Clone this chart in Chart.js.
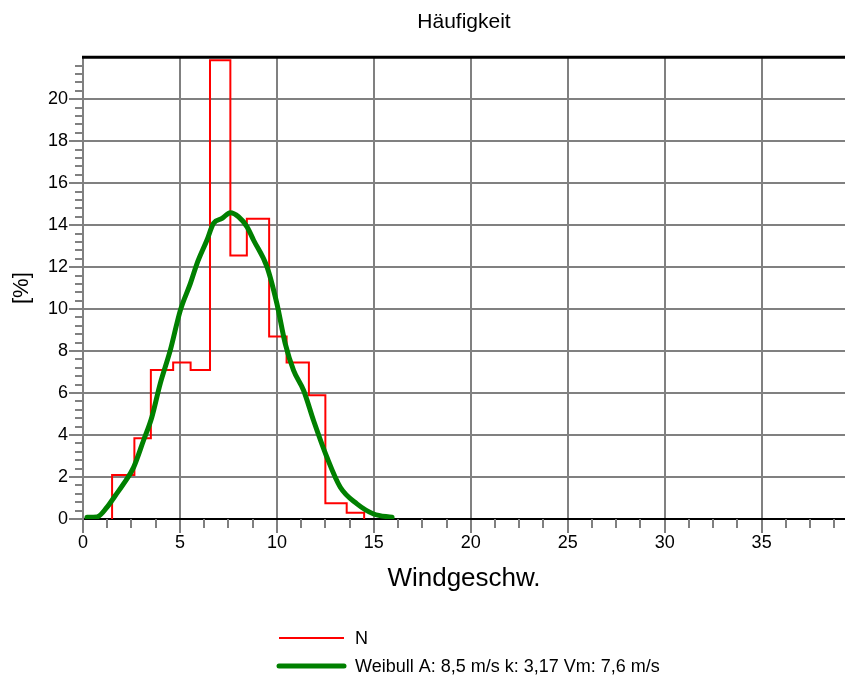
<!DOCTYPE html>
<html>
<head>
<meta charset="utf-8">
<title>Häufigkeit</title>
<script src="https://cdn.jsdelivr.net/npm/chart.js@4.4.1/dist/chart.umd.min.js"></script>
<style>
  html, body { margin: 0; padding: 0; background: #fff; }
</style>
</head>
<body>
<canvas id="chart" width="845" height="679"></canvas>
<script>
  "use strict";

  // Histogram "N": left edge of each bin (m/s) and its share in %
  const binEdges = [1.5, 2.65, 3.5, 4.65, 5.55, 6.55, 7.6, 8.45, 9.6, 10.5, 11.65, 12.5, 13.6, 14.5];
  const binValues = [2.1, 3.85, 7.1, 7.45, 7.1, 21.85, 12.55, 14.3, 8.7, 7.45, 5.9, 0.75, 0.3, 0];

  // Weibull fit
  const weibullX = [0.2, 0.72, 1.23, 1.66, 2.09, 2.61, 3.12, 3.55, 3.98, 4.5, 5.02, 5.53, 5.88, 6.39, 6.73, 7.17, 7.6, 8.02, 8.46, 8.8, 9.49, 10.0, 10.43, 10.86, 11.38, 11.89, 12.58, 13.27, 14.13, 14.99, 15.94];
  const weibullY = [0.08, 0.1, 0.55, 1.11, 1.67, 2.46, 3.74, 4.85, 6.44, 8.03, 9.94, 11.2, 12.17, 13.28, 14.08, 14.32, 14.59, 14.4, 13.92, 13.28, 12.01, 10.26, 8.35, 7.08, 6.12, 4.69, 2.94, 1.51, 0.72, 0.24, 0.08];

  const seriesLabels = ["N", "Weibull A: 8,5 m/s k: 3,17 Vm: 7,6 m/s"];

  // Axis ticks
  const xTickValues = [0, 5, 10, 15, 20, 25, 30, 35];
  const yTickValues = [0, 2, 4, 6, 8, 10, 12, 14, 16, 18, 20];
  const X_MAX = 39.3;
  const Y_MAX = 22;
  const X_MINOR = 1.25;
  const Y_MINOR = 0.4;

  const FONT = "'Liberation Sans', Arial, sans-serif";
  const GRID = "#808080";

  // minor tick marks + black top frame line
  const framePlugin = {
    id: "frame",
    beforeDatasetsDraw(chart) {
      const { ctx, chartArea, scales } = chart;
      const x = scales.x;
      const y = scales.y;
      ctx.save();
      ctx.strokeStyle = GRID;
      ctx.lineWidth = 2;
      ctx.beginPath();
      for (let i = 1; i * X_MINOR < X_MAX; i++) {
        if (i % 4 === 0) continue;
        const px = Math.round(x.getPixelForValue(i * X_MINOR));
        ctx.moveTo(px, chartArea.bottom);
        ctx.lineTo(px, chartArea.bottom + 9);
      }
      for (let i = 1; i * Y_MINOR < Y_MAX - 0.01; i++) {
        if (i % 5 === 0) continue;
        const py = Math.round(y.getPixelForValue(i * Y_MINOR));
        ctx.moveTo(chartArea.left - 8, py);
        ctx.lineTo(chartArea.left, py);
      }
      ctx.stroke();

      ctx.strokeStyle = "#000";
      ctx.lineWidth = 3;
      ctx.beginPath();
      ctx.moveTo(chartArea.left - 1, chartArea.top);
      ctx.lineTo(chartArea.right, chartArea.top);
      ctx.stroke();
      ctx.restore();
    },
  };

  // two-row legend under the axis title
  const legendPlugin = {
    id: "rowLegend",
    afterDraw(chart) {
      const { ctx } = chart;
      const rows = [638, 666];
      chart.data.datasets.forEach((ds, i) => {
        const y = rows[i];
        ctx.save();
        ctx.strokeStyle = ds.borderColor;
        ctx.lineWidth = ds.borderWidth;
        ctx.lineCap = i === 0 ? "butt" : "round";
        ctx.beginPath();
        ctx.moveTo(279, y);
        ctx.lineTo(344, y);
        ctx.stroke();
        ctx.fillStyle = "#000";
        ctx.font = "18px " + FONT;
        ctx.textBaseline = "middle";
        ctx.fillText(ds.label, 355, y + 1);
        ctx.restore();
      });
    },
  };

  const histData = [{ x: binEdges[0], y: 0 }].concat(
    binEdges.map((x, i) => ({ x: x, y: binValues[i] }))
  );
  const weibullData = weibullX.map((x, i) => ({ x: x, y: weibullY[i] }));

  new Chart(document.getElementById("chart"), {
    type: "line",
    data: {
      datasets: [
        {
          label: seriesLabels[0],
          data: histData,
          borderColor: "#ff0000",
          borderWidth: 2,
          stepped: "before",
          pointRadius: 0,
          fill: false,
          order: 1,
        },
        {
          label: seriesLabels[1],
          data: weibullData,
          borderColor: "#008000",
          borderWidth: 5,
          cubicInterpolationMode: "monotone",
          borderJoinStyle: "round",
          borderCapStyle: "round",
          pointRadius: 0,
          fill: false,
          order: 0,
        },
      ],
    },
    options: {
      responsive: false,
      animation: false,
      layout: { padding: { left: 0, right: 0, top: 0, bottom: 85 } },
      plugins: {
        legend: { display: false },
        tooltip: { enabled: false },
        title: {
          display: true,
          fullSize: false,
          text: "Häufigkeit",
          color: "#000",
          font: { family: FONT, size: 21, weight: "normal" },
          padding: { top: 10, bottom: 22 },
        },
      },
      scales: {
        x: {
          type: "linear",
          min: 0,
          max: X_MAX,
          afterBuildTicks: (scale) => {
            scale.ticks = xTickValues.map((v) => ({ value: v }));
          },
          afterFit: (scale) => {
            scale.height = 75;
          },
          ticks: {
            color: "#000",
            font: { family: FONT, size: 18 },
            padding: -1,
            maxRotation: 0,
            autoSkip: false,
          },
          grid: {
            color: (ctx) => (ctx.tick && ctx.tick.value === 0 ? "rgba(0,0,0,0)" : GRID),
            lineWidth: 2,
            tickLength: 14,
            tickColor: GRID,
            tickWidth: 2,
          },
          border: { color: "#000", width: 2 },
          title: {
            display: true,
            text: "Windgeschw.",
            color: "#000",
            font: { family: FONT, size: 26 },
            padding: 0,
          },
        },
        y: {
          type: "linear",
          min: 0,
          max: Y_MAX,
          afterBuildTicks: (scale) => {
            scale.ticks = yTickValues.map((v) => ({ value: v }));
          },
          afterFit: (scale) => {
            scale.width = 83;
          },
          ticks: {
            color: "#000",
            font: { family: FONT, size: 18 },
            padding: 1,
          },
          grid: {
            color: (ctx) => (ctx.tick && ctx.tick.value === 0 ? "rgba(0,0,0,0)" : GRID),
            lineWidth: 2,
            tickLength: 14,
            tickColor: GRID,
            tickWidth: 2,
          },
          border: { color: GRID, width: 2 },
          title: {
            display: true,
            text: "[%]",
            color: "#000",
            font: { family: FONT, size: 22 },
            padding: { top: 9, bottom: 0 },
          },
        },
      },
    },
    plugins: [framePlugin, legendPlugin],
  });
</script>
</body>
</html>
